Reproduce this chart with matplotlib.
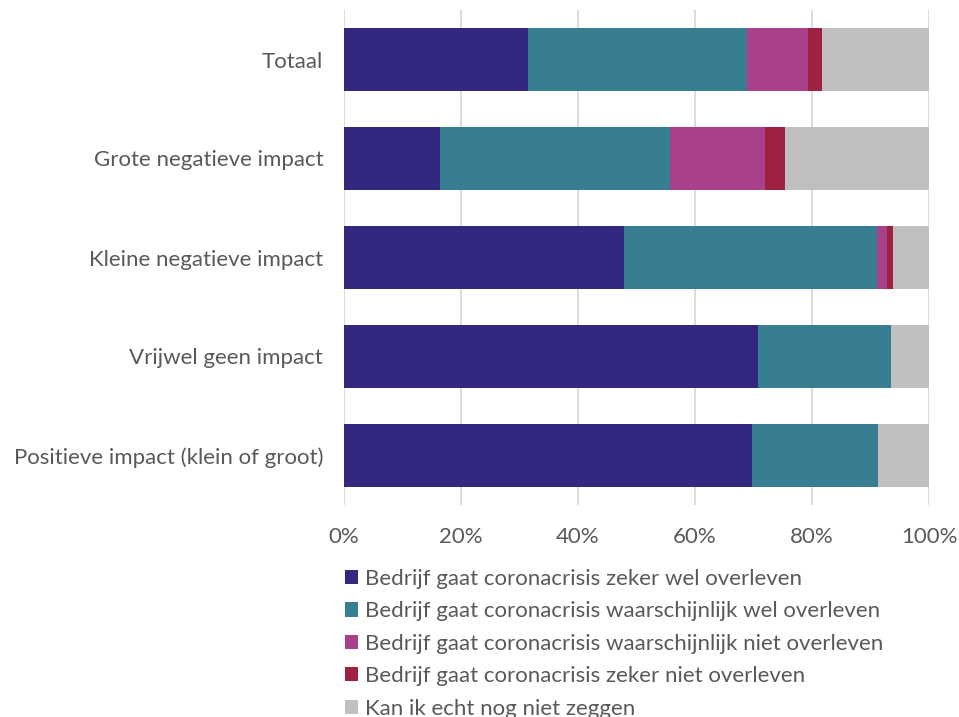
import matplotlib
matplotlib.use("Agg")
import matplotlib.pyplot as plt
from matplotlib.patches import Patch
import numpy as np

plt.rcParams['font.family'] = ['Lato', 'DejaVu Sans']

categories = ["Totaal", "Grote negatieve impact", "Kleine negatieve impact",
              "Vrijwel geen impact", "Positieve impact (klein of groot)"]
series_names = ["Bedrijf gaat coronacrisis zeker wel overleven",
                "Bedrijf gaat coronacrisis waarschijnlijk wel overleven",
                "Bedrijf gaat coronacrisis waarschijnlijk niet overleven",
                "Bedrijf gaat coronacrisis zeker niet overleven",
                "Kan ik echt nog niet zeggen"]
zeker_wel = [31.5, 16.4, 47.9, 70.8, 69.7]
waarschijnlijk_wel = [37.4, 39.3, 43.2, 22.7, 21.6]
waarschijnlijk_niet = [10.4, 16.3, 1.7, 0.0, 0.0]
zeker_niet = [2.4, 3.4, 1.0, 0.0, 0.0]
weet_niet = [18.3, 24.6, 6.2, 6.5, 8.7]
colors = ["#332880", "#377E92", "#A8418A", "#9E2142", "#BFBFBF"]
tick_labels = ["0%", "20%", "40%", "60%", "80%", "100%"]

series = [zeker_wel, waarschijnlijk_wel, waarschijnlijk_niet, zeker_niet, weet_niet]

fig = plt.figure(figsize=(9.59, 7.17), dpi=100)
ax = fig.add_axes([344/959, 1-505/717, (929-344)/959, 495/717])

y = np.arange(len(categories))
left = np.zeros(len(categories))
for vals, c, name in zip(series, colors, series_names):
    ax.barh(y, vals, left=left, height=0.63, color=c, label=name, zorder=3)
    left += np.array(vals)

ax.set_xlim(0, 100)
ax.set_ylim(len(categories) - 0.5, -0.5)
ax.set_xticks([0, 20, 40, 60, 80, 100])
ax.set_xticklabels(tick_labels)
ax.set_yticks(y)
ax.set_yticklabels(categories)
ax.tick_params(axis='both', length=0, labelsize=16, colors="#595959")
ax.tick_params(axis='x', pad=16)
ax.tick_params(axis='y', pad=15)
for s in ax.spines.values():
    s.set_visible(False)
ax.grid(axis='x', color="#D9D9D9", linewidth=1.3, zorder=0)

handles = [Patch(facecolor=c, edgecolor='none') for c in colors]
fig.legend(handles, series_names, loc='upper left', bbox_to_anchor=(336/959, 1-560/717),
           frameon=False, fontsize=16, handlelength=0.6, handleheight=0.6,
           handletextpad=0.3, labelspacing=0.56, labelcolor="#595959", borderaxespad=0)

fig.savefig("out.png", dpi=100)
